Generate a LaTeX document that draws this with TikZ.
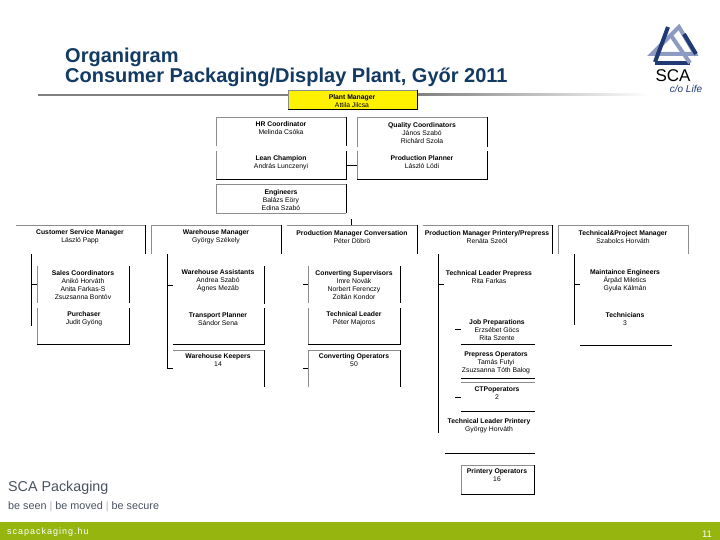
\documentclass[tikz,border=0pt]{standalone}
\usepackage{fontspec}
\setmainfont{Liberation Sans}
\usetikzlibrary{calc}
\definecolor{navy}{HTML}{123A63}
\definecolor{leaf}{HTML}{97B50F}
\definecolor{rulegray}{HTML}{808080}
\definecolor{edgegray}{HTML}{8C8C8C}
\definecolor{logodark}{HTML}{1F3A73}
\definecolor{logolight}{HTML}{8D9AC2}
\definecolor{taggray}{HTML}{4A5260}
\newcommand{\BX}[5]{\node[inner sep=0pt,outer sep=0pt,minimum width={(#4-#2)*1pt},minimum height={(#5-#3)*1pt}] (#1) at ({(#2+#4)/2},{(#3+#5)/2}) {};}
\newcommand{\TX}[4]{\node[orgtext] (#1) at (#2,#3) {#4};}
\newcommand{\N}[1]{\textbf{#1}}
\tikzset{
  orgtext/.style={inner sep=0pt,align=center,text=black,yshift=-1pt,font=\fontsize{6.8}{8}\selectfont},
  gl/.style={draw=edgegray,line width=0.9pt},
  bl/.style={draw=black,line width=1pt},
  wire/.style={draw=black,line width=0.8pt},
  logoband/.style={line width=4pt,line join=miter}
}
\begin{document}
\begin{tikzpicture}[x=1pt,y=-1pt]
\useasboundingbox (0,0) rectangle (720,540);
\fill[white] (0,0) rectangle (720,540);
% title
\node[anchor=west,inner sep=0pt,text=navy,font=\fontsize{20}{19.5}\bfseries\selectfont,align=left] (title) at (65,67.5) {Organigram\\[0pt]Consumer Packaging/Display Plant, Győr 2011};
% rule
\fill[rulegray] (38,94) rectangle (288,96);
\shade[left color=rulegray,right color=white] (417,94) rectangle (650,96);
% plant manager
\BX{pm}{288}{90}{417}{110}
\fill[yellow] (pm.north west) rectangle (pm.south east);
\draw[gl] (pm.south west) -- (pm.north west) -- (pm.north east);
\draw[bl] (pm.north east) -- (pm.south east) -- (pm.south west);
\TX{pmt}{352}{100}{\N{Plant Manager}\\Attila Jilcsa}
% staff boxes
\BX{hr}{216}{117}{346}{146}
\BX{lean}{216}{151}{346}{180}
\BX{eng}{216}{184}{346}{213}
\BX{qc}{357}{117}{487}{147}
\BX{planner}{357}{151}{487}{180}
\draw[gl] (hr.south west) -- (hr.north west) -- (hr.north east);
\draw[bl] (hr.north east) -- (hr.south east);
\draw[gl] (lean.north west) -- (lean.south west);
\draw[bl] (lean.north east) -- (lean.south east) -- (lean.south west);
\draw[gl] (eng.south east) -- (eng.south west) -- (eng.north west) -- (eng.north east);
\draw[bl] (eng.north east) -- (eng.south east);
\draw[gl] (qc.south west) -- (qc.north west) -- (qc.north east);
\draw[bl] (qc.north east) -- (qc.south east);
\draw[gl] (planner.north west) -- (planner.south west);
\draw[bl] (planner.north east) -- (planner.south east) -- (planner.south west);
\draw[wire] (lean.east) -- (planner.west);
\TX{hrt}{281}{127.5}{\N{HR Coordinator}\\Melinda Csóka}
\TX{leant}{281}{161.5}{\N{Lean Champion}\\András Lunczenyi}
\TX{engt}{281}{199}{\N{Engineers}\\Balázs Eöry\\Edina Szabó}
\TX{qct}{422}{132}{\N{Quality Coordinators}\\János Szabó\\Richárd Szola}
\TX{plannert}{422}{161.5}{\N{Production Planner}\\László Lódi}
% managers
\BX{csm}{16}{225}{145}{254}
\BX{wm}{151}{225}{281}{254}
\BX{pmc}{287}{225}{417}{254}
\BX{pmp}{423}{225}{552}{254}
\BX{tpm}{558}{225}{688}{254}
\draw[gl] (csm.north west) -- (csm.north east);
\draw[bl] (csm.north east) -- (csm.south east);
\draw[gl] (wm.south west) -- (wm.north west) -- (wm.north east);
\draw[bl] (wm.north east) -- (wm.south east);
\draw[gl] (pmc.north west) -- (pmc.north east);
\draw[bl] (pmc.north east) -- (pmc.south east);
\draw[gl] (pmp.north west) -- (pmp.north east);
\draw[bl] (pmp.north east) -- (pmp.south east);
\draw[gl] (tpm.south west) -- (tpm.north west) -- (tpm.north east) -- (tpm.south east);
\coordinate (tick) at (351,219);
\draw[wire] (tick) -- (tick |- pmc.north);
\TX{csmt}{80}{236}{\N{Customer Service Manager}\\László Papp}
\TX{wmt}{216}{236}{\N{Warehouse Manager}\\György Székely}
\TX{pmct}{352}{236}{\N{Production Manager Conversation}\\Péter Döbrö}
\TX{pmpt}{487}{236}{\N{Production Manager Printery/Prepress}\\Renáta Szeöl}
\TX{tpmt}{623}{236}{\N{Technical\&Project Manager}\\Szabolcs Horváth}
% customer service column
\BX{sales}{37}{266}{129}{303}
\BX{purch}{37}{308}{129}{344}
\draw[gl] (sales.north west) -- (sales.south west);
\draw[bl] (sales.north east) -- (sales.south east);
\draw[gl] (purch.north west) -- (purch.south west);
\draw[bl] (purch.north east) -- (purch.south east) -- (purch.south west);
\coordinate (s1a) at (31,254); \coordinate (s1b) at (31,326);
\draw[wire] (s1a) -- (s1b);
\draw[wire] (s1a |- sales.west) -- (sales.west);
\TX{salest}{83}{284}{\N{Sales Coordinators}\\Anikó Horváth\\Anita Farkas-S\\Zsuzsanna Bontóv}
\TX{purcht}{84}{318}{\N{Purchaser}\\Judit Gyöng}
% warehouse column
\BX{assist}{173}{266}{264}{304}
\BX{transp}{173}{308}{264}{344}
\BX{keep}{173}{350}{264}{387}
\draw[bl] (assist.north east) -- (assist.south east);
\draw[bl] (transp.north east) -- (transp.south east) -- (transp.south west);
\draw[gl] (keep.north west) -- (keep.north east);
\draw[bl] (keep.north east) -- (keep.south east);
\coordinate (s2a) at (167,254);
\draw[wire] (s2a) -- (s2a |- keep.west) -- (keep.west);
\draw[wire] (s2a |- assist.west) -- (assist.west);
\TX{assistt}{218}{280}{\N{Warehouse Assistants}\\Andrea Szabó\\Ágnes Mezáb}
\TX{transpt}{218}{318}{\N{Transport Planner}\\Sándor Sena}
\TX{keept}{218}{359}{\N{Warehouse Keepers}\\14}
% conversion column
\BX{sup}{308}{266}{400}{303}
\BX{tl}{308}{308}{400}{344}
\BX{conv}{308}{350}{400}{387}
\draw[gl] (sup.north west) -- (sup.south west);
\draw[bl] (sup.north east) -- (sup.south east);
\draw[gl] (tl.north west) -- (tl.south west);
\draw[bl] (tl.north east) -- (tl.south east) -- (tl.south west);
\draw[gl] (conv.south west) -- (conv.north west) -- (conv.north east);
\draw[bl] (conv.north east) -- (conv.south east);
\coordinate (s3a) at (303,285); \coordinate (s3b) at (303,368);
\draw[wire] (s3a |- sup.west) -- (sup.west);
\draw[wire] (s3b |- conv.west) -- (conv.west);
\TX{supt}{354}{284}{\N{Converting Supervisors}\\Imre Novák\\Norbert Ferenczy\\Zoltán Kondor}
\TX{tlt}{354}{318}{\N{Technical Leader}\\Péter Majoros}
\TX{convt}{354}{359}{\N{Converting Operators}\\50}
% printery column
\BX{tlp}{444}{266}{535}{303}
\BX{job}{461}{315}{535}{344}
\BX{pre}{461}{348}{535}{378}
\BX{ctp}{461}{382}{535}{411}
\BX{tlpr}{445}{415}{535}{453}
\BX{prn}{461}{465}{534}{494}
\draw[bl] (job.south west) -- (job.south east);
\draw[bl] (pre.south west) -- (pre.south east);
\draw[gl] (ctp.north west) -- (ctp.north east);
\draw[bl] (ctp.south west) -- (ctp.south east);
\draw[bl] (tlpr.south west) -- (tlpr.south east);
\draw[gl] (prn.south west) -- (prn.north west) -- (prn.north east);
\draw[bl] (prn.north east) -- (prn.south east) -- (prn.south west);
\coordinate (s4a) at (438,254); \coordinate (s4b) at (438,433);
\draw[wire] (s4a) -- (s4b);
\draw[wire] (s4a |- tlp.west) -- (tlp.west);
\coordinate (j0) at (455,329); \coordinate (c0) at (455,397);
\draw[wire] (j0) -- (j0 -| job.west);
\draw[wire] (c0) -- (c0 -| ctp.west);
\TX{tlpt}{489}{276}{\N{Technical Leader Prepress}\\Rita Farkas}
\TX{jobt}{497}{329}{\N{Job Preparations}\\Erzsébet Göcs\\Rita Szente}
\TX{pret}{496}{362}{\N{Prepress Operators}\\Tamás Futyi\\Zsuzsanna Tóth Balog}
\TX{ctpt}{497}{392}{\N{CTPoperators}\\2}
\TX{tlprt}{489}{425}{\N{Technical Leader Printery}\\György Horváth}
\TX{prnt}{497}{474}{\N{Printery Operators}\\16}
% technical column
\BX{maint}{580}{266}{672}{303}
\BX{techn}{580}{308}{672}{345}
\draw[bl] (techn.south west) -- (techn.south east);
\coordinate (s5a) at (574,254); \coordinate (s5b) at (574,325);
\draw[wire] (s5a) -- (s5b);
\draw[wire] (s5a |- maint.west) -- (maint.west);
\TX{maintt}{625}{280}{\N{Maintaince Engineers}\\Árpád Miletics\\Gyula Kálmán}
\TX{techt}{625}{318}{\N{Technicians}\\3}
% SCA logo
\draw[logoband,logolight] (679,27) -- (695,54) -- (652,54) -- cycle;
\draw[logoband,logodark] (668,27) -- (655,62);
\draw[logoband,logodark] (655,63) -- (690,63);
\draw[logoband,logolight] (690,63) -- (670,34);
\draw[logoband,logodark] (696,54) -- (684,34);
\node[inner sep=0pt,text=black,font=\fontsize{17}{17}\selectfont] (sca) at (673,76) {SCA};
\node[inner sep=0pt,text=logodark,font=\fontsize{10}{10}\itshape\selectfont] (colife) at (686,89) {c/o Life};
% footer
\node[anchor=west,inner sep=0pt,text=taggray,font=\fontsize{14.3}{15}\selectfont] (pack) at (8,488) {SCA Packaging};
\node[anchor=west,inner sep=0pt,text=taggray,font=\fontsize{10.8}{11}\selectfont] (tag) at (8,507) {be seen \textcolor{gray!60}{|} be moved \textcolor{gray!60}{|} be secure};
\fill[leaf] (0,522) rectangle (720,540);
\node[anchor=west,inner sep=0pt,text=white,font=\fontsize{9}{9}\selectfont] (web) at (7,532.5) {\addfontfeature{LetterSpace=11}scapackaging.hu};
\node[inner sep=0pt,text=white,font=\fontsize{9.5}{9.5}\selectfont] (page) at (707,534.5) {11};
\end{tikzpicture}
\end{document}
